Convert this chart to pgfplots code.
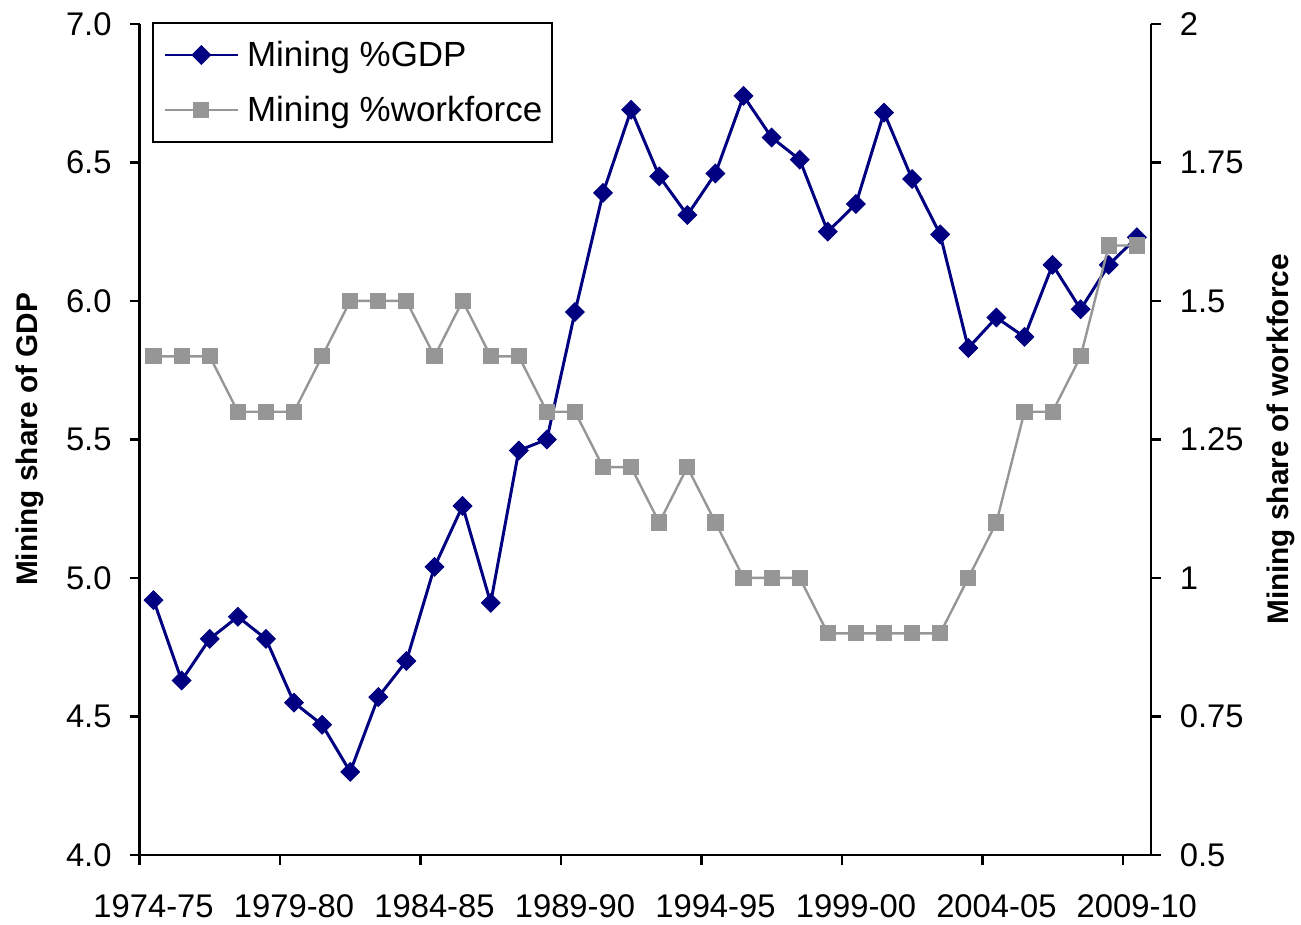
\documentclass[border=0pt]{standalone}
\usepackage{pgfplots}
\pgfplotsset{compat=1.18}
\usepackage{pgfplotstable}
\usepackage{fontspec}
\setmainfont{Liberation Sans}

\definecolor{gdpblue}{RGB}{0,0,128}
\definecolor{wfgray}{RGB}{150,150,150}

% Mining share of GDP (%) and of the workforce (%), 1974-75 to 2009-10
\pgfplotstableread{
idx gdp  wf
0   4.92 1.4
1   4.63 1.4
2   4.78 1.4
3   4.86 1.3
4   4.78 1.3
5   4.55 1.3
6   4.47 1.4
7   4.30 1.5
8   4.57 1.5
9   4.70 1.5
10  5.04 1.4
11  5.26 1.5
12  4.91 1.4
13  5.46 1.4
14  5.50 1.3
15  5.96 1.3
16  6.39 1.2
17  6.69 1.2
18  6.45 1.1
19  6.31 1.2
20  6.46 1.1
21  6.74 1.0
22  6.59 1.0
23  6.51 1.0
24  6.25 0.9
25  6.35 0.9
26  6.68 0.9
27  6.44 0.9
28  6.24 0.9
29  5.83 1.0
30  5.94 1.1
31  5.87 1.3
32  6.13 1.3
33  5.97 1.4
34  6.13 1.6
35  6.23 1.6
}\mining

\pgfplotsset{
  gdpstyle/.style={color=gdpblue, line width=1.5bp, mark=square*,
    mark size=3.3bp, mark options={rotate=45, solid, fill=gdpblue, draw=gdpblue, line width=0.5bp}},
  wfstyle/.style={color=wfgray, line width=1.2bp, mark=square*,
    mark size=3.8bp, mark options={solid, fill=wfgray, draw=wfgray, line width=0.5bp}},
  every axis/.append style={
    scale only axis, width=507.5bp, height=417bp,
    xmin=-0.5, xmax=35.5,
    axis line style={line width=1.2bp, black},
    tick style={line width=1.2bp, black},
    major tick length=5bp,
    tick align=outside,
    tick label style={font=\fontsize{16.5}{19.8}\selectfont},
    /pgf/number format/assume math mode=true,
    label style={font=\bfseries\fontsize{15}{18}\selectfont},
    clip=false,
  },
}

\begin{document}
\begin{tikzpicture}
% left axis: share of GDP
\begin{axis}[
  axis x line*=bottom, axis y line*=left,
  ymin=4, ymax=7, ytick={4,4.5,...,7},
  y tick label style={/pgf/number format/fixed,
    /pgf/number format/fixed zerofill, /pgf/number format/precision=1},
  yticklabel style={xshift=-5.5bp},
  xtick={-0.5,4.5,...,34.5},
  xticklabels={1974-75,1979-80,1984-85,1989-90,1994-95,1999-00,2004-05,2009-10},
  xticklabel style={xshift=7.05bp, yshift=-11.5bp},
  ylabel={Mining share of GDP},
  ylabel style={at={([xshift=-55bp]rel axis cs:0,0.5)}, anchor=center},
]
\addplot[gdpstyle] table[x=idx, y=gdp] {\mining};
\end{axis}
% right axis: share of workforce
\begin{axis}[
  axis x line=none, axis y line*=right,
  ymin=0.5, ymax=2, ytick={0.5,0.75,...,2},
  yticklabels={0.5,0.75,1,1.25,1.5,1.75,2},
  yticklabel style={xshift=6bp},
  ylabel={Mining share of workforce},
  ylabel style={at={([xshift=65bp]rel axis cs:1,0.5)}, anchor=center},
  legend cell align=left,
  legend image code/.code={\draw[mark repeat=2, mark phase=2]
    plot coordinates {(0bp,0bp) (18.25bp,0bp) (36.5bp,0bp)};},
  legend style={at={(rel axis cs:0,1)}, anchor=north west,
    xshift=6.5bp, yshift=1bp, draw=black, line width=1bp,
    inner xsep=5bp, inner ysep=8bp,
    font=\fontsize{17.6}{21}\selectfont, row sep=11.5bp,
    nodes={inner xsep=0bp, inner ysep=1bp},
    /tikz/every odd column/.style={column sep=4bp}},
]
\addlegendimage{gdpstyle}
\addlegendentry{Mining \%GDP}
\addplot[wfstyle] table[x=idx, y=wf] {\mining};
\addlegendentry{Mining \%workforce}
\end{axis}
% overall extent of the figure
\path ([shift={(-70bp,-35bp)}]current axis.south west)
  rectangle ([shift={(73bp,12bp)}]current axis.north east);
\end{tikzpicture}
\end{document}
